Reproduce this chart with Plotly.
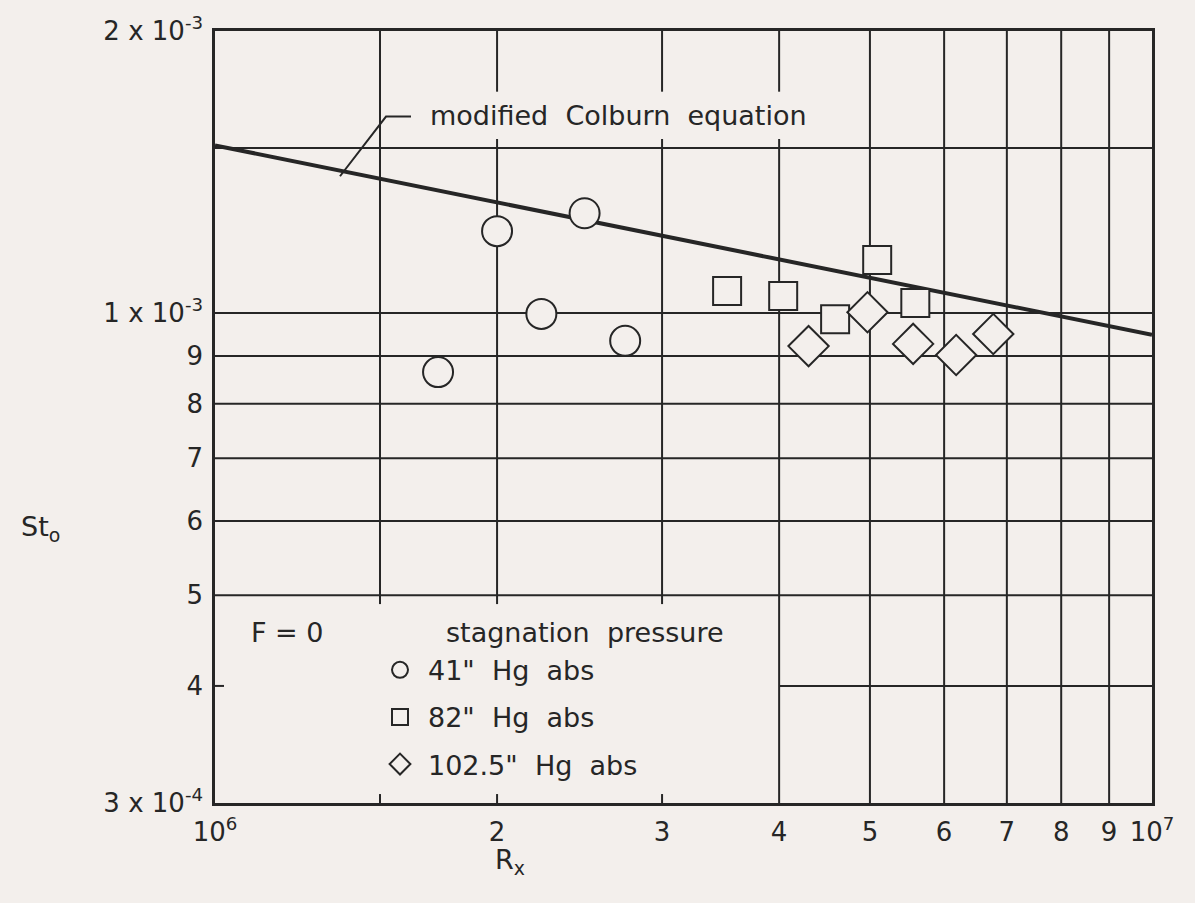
import math
import plotly.graph_objects as go

# ---------------- data ----------------
rx_41 = [1.73e6, 2.0e6, 2.23e6, 2.48e6, 2.74e6]
st_41 = [0.865e-3, 1.223e-3, 0.998e-3, 1.278e-3, 0.934e-3]

rx_82 = [3.52e6, 4.04e6, 4.59e6, 5.09e6, 5.59e6]
st_82 = [1.056e-3, 1.043e-3, 0.985e-3, 1.139e-3, 1.025e-3]

rx_102 = [4.30e6, 4.97e6, 5.56e6, 6.18e6, 6.77e6]
st_102 = [0.922e-3, 1.002e-3, 0.927e-3, 0.902e-3, 0.950e-3]

rx_colburn = [1e6, 1e7]
st_colburn = [1.51e-3, 0.948e-3]

x_tickvals = [1e6, 1.5e6, 2e6, 3e6, 4e6, 5e6, 6e6, 7e6, 8e6, 9e6, 1e7]
x_ticktext = ["10<sup>6</sup>", "", "2", "3", "4", "5", "6", "7", "8", "9", "10<sup>7</sup>"]
y_tickvals = [3e-4, 4e-4, 5e-4, 6e-4, 7e-4, 8e-4, 9e-4, 1e-3, 1.5e-3, 2e-3]
y_ticktext = ["3 x 10<sup>-4</sup>", "4", "5", "6", "7", "8", "9",
              "1 x 10<sup>-3</sup>", "", "2 x 10<sup>-3</sup>"]

# ---------------- style ----------------
BG = "#f3efec"
INK = "#262626"
FONT = "DejaVu Sans"
W, H = 1195, 903
ML, MR, MT, MB = 215, 43, 27, 100
PW, PH = W - ML - MR, H - MT - MB

X0, X1 = 6.0, 7.0
Y0, Y1 = math.log10(3e-4), math.log10(2e-3)


def xp(v):
    return (math.log10(v) - X0) / (X1 - X0)


def yp(v):
    return (math.log10(v) - Y0) / (Y1 - Y0)


def pxx(p):  # pixel offset -> paper fraction (x)
    return p / PW


def pxy(p):
    return p / PH


def PX(px):  # absolute page pixel -> paper x
    return (px - ML) / PW


def PY(py):  # absolute page pixel -> paper y
    return 1 - (py - MT) / PH


fig = go.Figure()

fig.add_trace(go.Scatter(
    x=rx_colburn, y=st_colburn, mode="lines",
    line=dict(color=INK, width=4), showlegend=False, hoverinfo="skip"))

mk_line = dict(color=INK, width=2)
fig.add_trace(go.Scatter(
    x=rx_41, y=st_41, mode="markers", name="41\"  Hg  abs", legendgroup="a",
    marker=dict(symbol="circle", size=30, color=BG, line=mk_line)))
fig.add_trace(go.Scatter(
    x=rx_82, y=st_82, mode="markers", name="82\"  Hg  abs", legendgroup="b",
    marker=dict(symbol="square", size=28, color=BG, line=mk_line)))
fig.add_trace(go.Scatter(
    x=rx_102, y=st_102, mode="markers", name="102.5\"  Hg  abs", legendgroup="c",
    marker=dict(symbol="diamond", size=31, color=BG, line=mk_line)))

# ---------------- grid (drawn as segments so label areas stay blank) ----------------
shapes = []
GW = 2


def seg(x0, y0, x1, y1, w=GW):
    shapes.append(dict(type="line", xref="paper", yref="paper",
                       x0=x0, y0=y0, x1=x1, y1=y1, layer="below",
                       line=dict(color=INK, width=w)))


y5 = yp(5e-4)
y15 = yp(1.5e-3)
ylab_top = PY(88)
TL = 9
for v in [1.5e6, 2e6, 3e6, 4e6, 5e6, 6e6, 7e6, 8e6, 9e6]:
    x = xp(v)
    if v < 4e6:
        seg(x, 0, x, pxy(TL))
        seg(x, y5, x, y5 - pxy(TL))
        if v == 1.5e6:
            seg(x, y5, x, 1)
        else:
            seg(x, y5, x, y15 + pxy(TL))
            seg(x, ylab_top, x, 1)
    elif v == 4e6:
        seg(x, 0, x, y15 + pxy(TL))
        seg(x, ylab_top, x, 1)
    else:
        seg(x, 0, x, 1)

for v in [4e-4, 5e-4, 6e-4, 7e-4, 8e-4, 9e-4, 1e-3, 1.5e-3]:
    y = yp(v)
    if v == 4e-4:
        seg(0, y, pxx(TL), y)
        seg(xp(4e6), y, 1, y)
    else:
        seg(0, y, 1, y)

# leader line for the Colburn label
shapes.append(dict(type="path", xref="paper", yref="paper", layer="above",
                   path=f"M{PX(340)},{PY(173)} L{PX(386)},{PY(113)} L{PX(411)},{PY(113)}",
                   line=dict(color=INK, width=2)))

tfont = dict(family=FONT, size=27, color=INK)
kfont = dict(family=FONT, size=26, color=INK)
annotations = [
    dict(text="modified  Colburn  equation", xref="paper", yref="paper",
         x=PX(428), y=PY(112), xanchor="left", yanchor="middle",
         showarrow=False, font=tfont),
    dict(text="F = 0", xref="paper", yref="paper",
         x=PX(287), y=PY(632), xanchor="center", yanchor="middle",
         showarrow=False, font=tfont),
    dict(text="stagnation  pressure", xref="paper", yref="paper",
         x=PX(444), y=PY(632), xanchor="left", yanchor="middle",
         showarrow=False, font=tfont),
    dict(text="R<sub>x</sub>", xref="paper", yref="paper",
         x=PX(510), y=PY(862), xanchor="center", yanchor="middle",
         showarrow=False, font=tfont),
    dict(text="St<sub>o</sub>", xref="paper", yref="paper",
         x=PX(40), y=PY(527), xanchor="center", yanchor="middle",
         showarrow=False, font=tfont),
]

fig.update_layout(
    width=W, height=H,
    margin=dict(l=ML, r=MR, t=MT, b=MB, pad=0),
    paper_bgcolor=BG, plot_bgcolor=BG,
    font=dict(family=FONT, size=26, color=INK),
    shapes=shapes, annotations=annotations,
    showlegend=True,
    legend=dict(x=PX(372), y=PY(645), xanchor="left", yanchor="top",
                bgcolor="rgba(0,0,0,0)", borderwidth=0, itemsizing="trace",
                traceorder="grouped", tracegroupgap=9, itemwidth=46,
                font=tfont),
    xaxis=dict(type="log", range=[X0, X1], tickvals=x_tickvals, ticktext=x_ticktext,
               showgrid=False, zeroline=False, ticks="", showline=True, mirror=True,
               linecolor=INK, linewidth=2.5, tickfont=kfont, ticklabelstandoff=4),
    yaxis=dict(type="log", range=[Y0, Y1], tickvals=y_tickvals, ticktext=y_ticktext,
               showgrid=False, zeroline=False, ticks="", showline=True, mirror=True,
               linecolor=INK, linewidth=2.5, tickfont=kfont, ticklabelstandoff=4),
)

fig.write_html(
    "out.html",
    config={"displayModeBar": False},
    post_script="document.body.style.margin='0';document.body.style.background='%s';" % BG,
)
